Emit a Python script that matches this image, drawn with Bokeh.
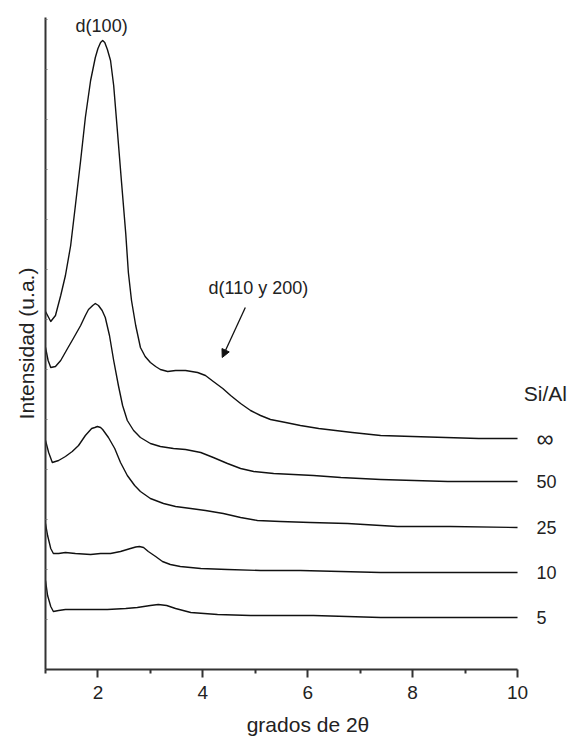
from bokeh.plotting import figure
from bokeh.models import (Range1d, FixedTicker, CustomJSTickFormatter, Label,
                          Arrow, NormalHead)
from bokeh.embed import file_html
from bokeh.resources import INLINE

# ---------------- data (2theta in degrees, intensity in arbitrary units, stacked) -------------
x_inf = [1.00, 1.10, 1.19, 1.29, 1.38, 1.48, 1.57, 1.67, 1.76, 1.86, 1.95, 2.00, 2.05, 2.09,
         2.13, 2.18, 2.24, 2.30, 2.37, 2.45, 2.53, 2.58, 2.64, 2.72, 2.81, 2.90, 3.00, 3.10,
         3.19, 3.33, 3.48, 3.67, 3.90, 4.05, 4.20, 4.38, 4.53, 4.72, 4.91, 5.10, 5.29, 5.58,
         5.86, 6.21, 6.53, 6.85, 7.39, 8.00, 8.63, 9.26, 10.00]
y_inf = [358, 348, 354, 374, 394, 424, 464, 509, 552, 589, 612, 621, 627, 629,
         627, 620, 609, 584, 539, 487, 436, 397, 369, 344, 322, 313, 307, 303,
         300, 298, 299, 299, 297, 294, 288, 281, 274, 266, 259, 254, 250, 247,
         244, 241, 239, 237, 234, 233, 232, 231, 231]

x_50 = [1.00, 1.05, 1.10, 1.19, 1.29, 1.42, 1.53, 1.67, 1.76, 1.82, 1.90, 1.95, 2.01, 2.08,
        2.14, 2.22, 2.30, 2.39, 2.47, 2.56, 2.68, 2.81, 3.00, 3.19, 3.44, 3.67, 3.96, 4.20,
        4.47, 4.72, 4.97, 5.35, 5.73, 6.11, 6.63, 7.39, 8.67, 10.00]
y_50 = [322, 309, 302, 303, 309, 321, 331, 344, 354, 360, 364, 366, 364, 359,
        352, 334, 309, 284, 264, 249, 239, 232, 226, 223, 221, 220, 217, 212,
        206, 201, 198, 196, 195, 194, 192, 190, 188, 188]

x_25 = [1.00, 1.06, 1.13, 1.25, 1.38, 1.51, 1.63, 1.76, 1.88, 1.94, 1.99, 2.05, 2.09, 2.20,
        2.32, 2.43, 2.56, 2.70, 2.81, 3.00, 3.25, 3.48, 3.77, 4.05, 4.39, 4.72, 5.04, 5.48,
        6.05, 6.76, 7.71, 8.72, 10.00]
y_25 = [229, 217, 207, 209, 213, 218, 224, 234, 241, 242, 243, 242, 240, 232,
        221, 207, 194, 184, 178, 171, 166, 163, 161, 159, 156, 152, 149, 148,
        147, 146, 143, 143, 142]

x_10 = [1.00, 1.04, 1.10, 1.15, 1.25, 1.38, 1.57, 1.86, 2.05, 2.24, 2.43, 2.62, 2.72, 2.79,
        2.87, 2.96, 3.10, 3.23, 3.38, 3.57, 3.96, 4.47, 5.10, 5.86, 6.63, 7.39, 8.72, 10.00]
y_10 = [146, 134, 121, 116, 116, 117, 116, 115, 116, 116, 118, 121, 122.5, 123,
        122, 118, 113, 108, 105, 103, 101, 100, 99, 99, 98, 97, 97, 97]

x_5 = [1.00, 1.04, 1.10, 1.15, 1.25, 1.38, 1.67, 2.18, 2.53, 2.75, 3.00, 3.15, 3.31, 3.48,
       3.77, 4.28, 4.91, 5.48, 6.11, 7.39, 8.72, 10.00]
y_5 = [89, 74, 63, 58, 59, 60, 60, 60, 61, 62, 64, 65, 64, 61,
       57, 55, 54, 54, 54, 52, 52, 52]

series_x = [x_inf, x_50, x_25, x_10, x_5]
series_y = [y_inf, y_50, y_25, y_10, y_5]
series_names = ["\u221e", "50", "25", "10", "5"]
series_label_sizes = ["24px", "18px", "18px", "18px", "18px"]

x_ticks = [2, 4, 6, 8, 10]
x_minor_ticks = [1, 3, 5, 7, 9]
y_ticks = [50, 100, 150, 200, 250, 300, 350, 400, 450, 500, 550, 600, 650]

# annotation anchors (data units)
peak_label = ("d(100)", 2.07, 644)
shoulder_label = ("d(110 y 200)", 5.06, 382)
arrow_from = (4.81, 362)
arrow_to = (4.37, 312)
legend_title = "Si/Al"
legend_title_pos = (10.12, 276)
legend_x = 10.36

FONT = "Liberation Sans"
TXT = "#222222"
AX = "#333333"

p = figure(width=570, height=740, x_range=Range1d(1, 11.01), y_range=Range1d(0, 652),
           output_backend="svg", toolbar_location=None,
           min_border_left=45, min_border_right=0, min_border_top=17, min_border_bottom=71)
p.outline_line_color = None
p.grid.visible = False
p.background_fill_color = "white"
p.border_fill_color = "white"

for xs, ys in zip(series_x, series_y):
    p.line(xs, ys, line_color="#111111", line_width=1.4, line_join="round")

# x axis
xa = p.xaxis[0]
xa.bounds = (1, 10)
xa.ticker = FixedTicker(ticks=x_ticks, minor_ticks=x_minor_ticks)
xa.axis_label = "grados de 2\u03b8"
xa.axis_label_text_font = FONT
xa.axis_label_text_font_size = "21px"
xa.axis_label_text_font_style = "normal"
xa.axis_label_text_color = TXT
xa.axis_label_standoff = 11
xa.major_label_text_font = FONT
xa.major_label_text_font_size = "19px"
xa.major_label_text_color = TXT
xa.major_label_standoff = 8
xa.axis_line_color = AX
xa.axis_line_width = 2
xa.major_tick_line_color = AX
xa.major_tick_line_width = 2
xa.major_tick_in = 0
xa.major_tick_out = 8
xa.minor_tick_line_color = AX
xa.minor_tick_line_width = 2
xa.minor_tick_in = 0
xa.minor_tick_out = 4

# y axis
ya = p.yaxis[0]
ya.ticker = FixedTicker(ticks=y_ticks, minor_ticks=[])
ya.formatter = CustomJSTickFormatter(code="return ''")
ya.axis_label = "Intensidad (u.a.)"
ya.axis_label_text_font = FONT
ya.axis_label_text_font_size = "21px"
ya.axis_label_text_font_style = "normal"
ya.axis_label_text_color = TXT
ya.axis_label_standoff = 8
ya.major_label_standoff = 0
ya.axis_line_color = AX
ya.axis_line_width = 2
ya.major_tick_line_color = "#777777"
ya.major_tick_line_width = 1
ya.major_tick_in = 2
ya.major_tick_out = 0
ya.minor_tick_line_color = None

# annotations
p.add_layout(Label(x=peak_label[1], y=peak_label[2], text=peak_label[0],
                   text_font=FONT, text_font_size="18px", text_color=TXT,
                   text_align="center", text_baseline="middle"))
p.add_layout(Label(x=shoulder_label[1], y=shoulder_label[2], text=shoulder_label[0],
                   text_font=FONT, text_font_size="18px", text_color=TXT,
                   text_align="center", text_baseline="middle"))
p.add_layout(Arrow(x_start=arrow_from[0], y_start=arrow_from[1],
                   x_end=arrow_to[0], y_end=arrow_to[1],
                   line_color="#111111", line_width=1.3,
                   end=NormalHead(size=8, fill_color="#111111", line_color="#111111",
                                  line_width=1)))

p.add_layout(Label(x=legend_title_pos[0], y=legend_title_pos[1], text=legend_title,
                   text_font=FONT, text_font_size="21px", text_color=TXT,
                   text_align="left", text_baseline="middle"))
for xs, ys, name, fs in zip(series_x, series_y, series_names, series_label_sizes):
    p.add_layout(Label(x=legend_x, y=ys[-1], text=name,
                       text_font=FONT, text_font_size=fs, text_color=TXT,
                       text_align="left", text_baseline="middle"))

open("out.html", "w").write(file_html(p, INLINE))
